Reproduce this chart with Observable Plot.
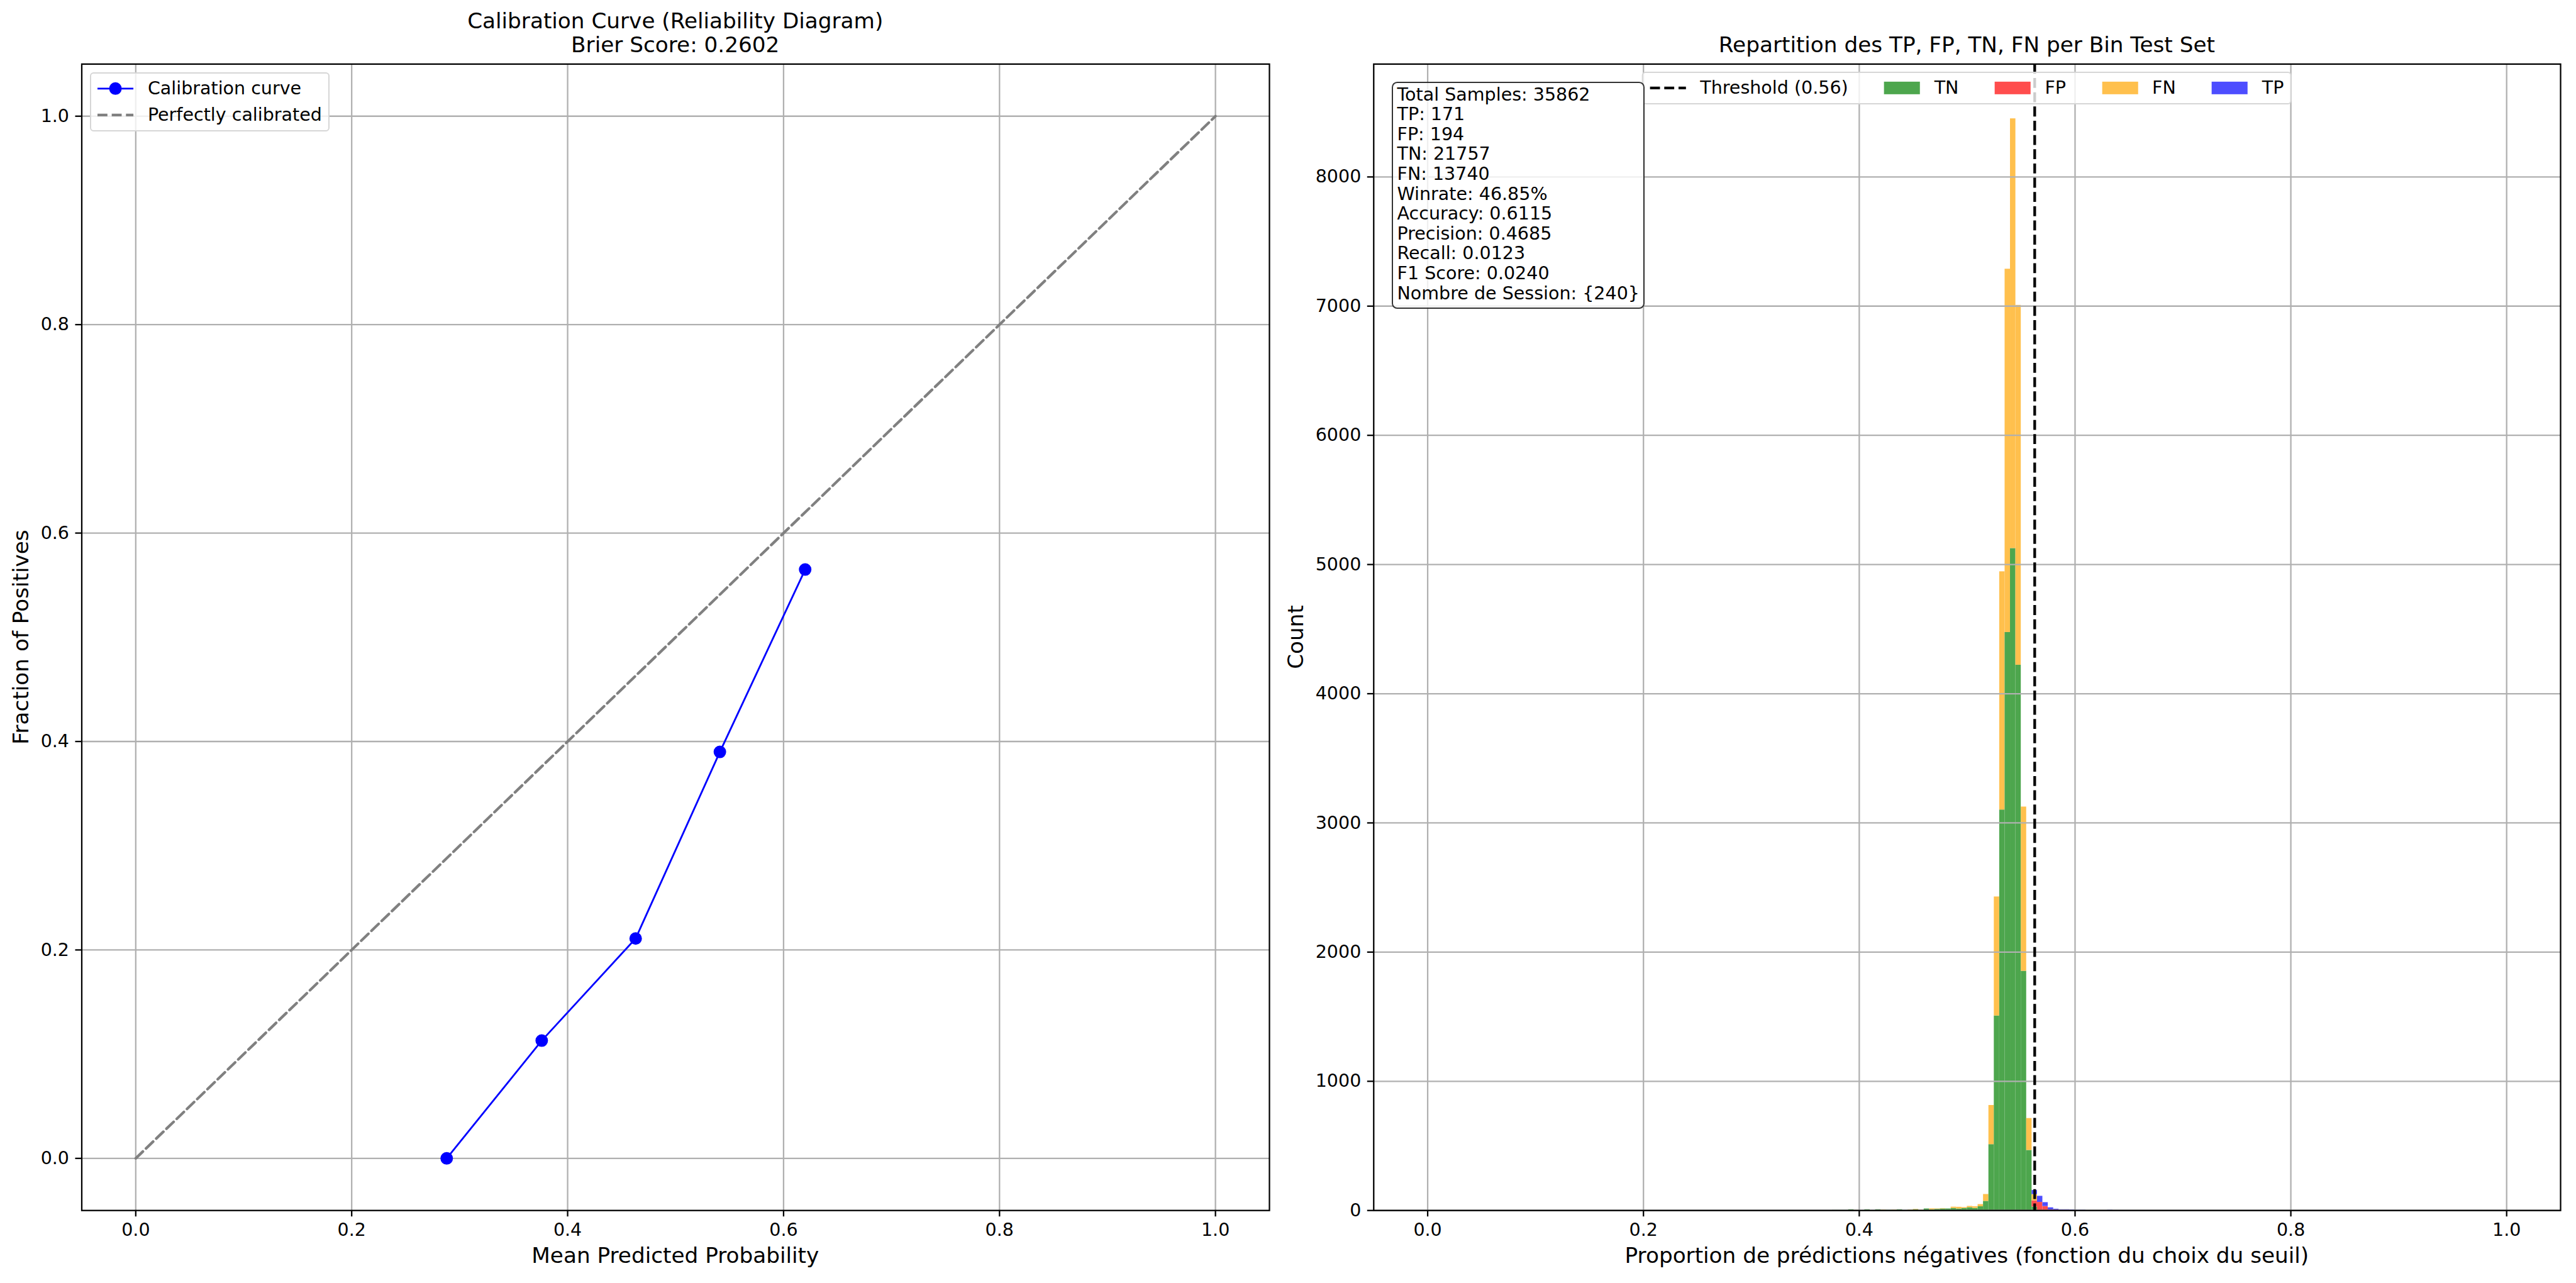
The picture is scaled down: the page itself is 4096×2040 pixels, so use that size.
<!DOCTYPE html>
<html><head><meta charset="utf-8">
<script src="https://cdn.jsdelivr.net/npm/d3@7"></script>
<script src="https://cdn.jsdelivr.net/npm/@observablehq/plot@0.6"></script>
<style>
body{margin:0;background:#fff;}
#root{position:relative;width:4096px;height:2040px;overflow:hidden;font-family:"DejaVu Sans";color:#000;background:#fff}
.abs{position:absolute;white-space:nowrap}
</style></head><body><div id="root"></div>
<script>
// ---------- data ----------
const meanPredicted = [0.288, 0.376, 0.463, 0.541, 0.620];
const fractionPositives = [0.000, 0.113, 0.211, 0.390, 0.565];
const diagonal = [0, 1];

const binWidth = 0.005;
const binStarts = [0.375,0.380,0.385,0.390,0.395,0.400,0.405,0.410,0.415,0.420,0.425,0.430,0.435,0.440,0.445,0.450,0.455,0.460,0.465,0.470,0.475,0.480,0.485,0.490,0.495,0.500,0.505,0.510,0.515,0.520,0.525,0.530,0.535,0.540,0.545,0.550,0.555,0.560,0.565,0.570,0.575,0.580,0.585,0.590,0.595,0.600,0.605,0.610,0.615,0.620,0.625,0.630];
const tnCounts = [2,2,2,7,0,0,7,0,7,3,3,3,7,0,3,7,0,13,7,10,13,13,17,13,17,23,17,30,72,511,1507,3101,4475,5125,4222,1853,466,28,0,0,0,0,0,0,0,0,0,0,0,0,0,0];
const fpCounts = [0,0,0,0,0,0,0,0,0,0,0,0,0,0,0,0,0,0,0,0,0,0,0,0,0,0,0,0,0,0,0,0,0,0,0,0,0,48,64,32,6,5,3,3,2,1,1,0,0,0,0,0];
const fnCounts = [0,0,0,0,2,0,0,0,0,3,0,3,0,0,3,3,3,0,7,3,3,0,10,13,7,10,13,17,53,303,921,1844,2812,3326,2785,1271,247,48,0,0,0,0,0,0,0,0,0,0,0,0,0,0];
const tpCounts = [0,0,0,0,0,0,0,0,0,0,0,0,0,0,0,0,0,0,0,0,0,0,0,0,0,0,0,0,0,0,0,0,0,0,0,0,0,32,47,30,16,6,4,4,4,2,2,0,0,0,0,3];
const threshold = 0.5626;

const classes = ["TN", "FP", "FN", "TP"];
const classColors = ["#4da64d", "#ff4d4d", "#ffc04d", "#4d4dff"];

const xTicks = [0, 0.2, 0.4, 0.6, 0.8, 1.0];
const yTicksLeft = [0, 0.2, 0.4, 0.6, 0.8, 1.0];
const yTicksRight = [0, 1000, 2000, 3000, 4000, 5000, 6000, 7000, 8000];

const leftTitle = ["Calibration Curve (Reliability Diagram)", "Brier Score: 0.2602"];
const rightTitle = "Repartition des TP, FP, TN, FN per Bin Test Set";
const leftXLabel = "Mean Predicted Probability";
const leftYLabel = "Fraction of Positives";
const rightXLabel = "Proportion de prédictions négatives (fonction du choix du seuil)";
const rightYLabel = "Count";
const leftLegend = ["Calibration curve", "Perfectly calibrated"];
const thresholdLabel = "Threshold (0.56)";
const statsLines = ["Total Samples: 35862","TP: 171","FP: 194","TN: 21757","FN: 13740","Winrate: 46.85%","Accuracy: 0.6115","Precision: 0.4685","Recall: 0.0123","F1 Score: 0.0240","Nombre de Session: {240}"];

// ---------- sizes (already scaled) ----------
const FS = 28.54, TFS = 34.25, AXW = 2.28, TICK = 10, PAD = 10;
const GRID = "#b0b0b0";
const DASH = "15.8 6.85";
const root = document.getElementById("root");

const series = {TN: tnCounts, FP: fpCounts, FN: fnCounts, TP: tpCounts};
const histRows = [];
binStarts.forEach((b, i) => classes.forEach(c => {
  const v = series[c][i];
  if (v > 0) histRows.push({x1: b, x2: b + binWidth, count: v, cls: c});
}));
const totals = binStarts.map((b, i) => classes.reduce((s, c) => s + series[c][i], 0));
const yMaxRight = d3.max(totals) * 1.05;

const styleBase = {fontFamily: "DejaVu Sans", fontSize: FS + "px", background: "transparent", overflow: "visible", color: "black"};

// ---------- left chart ----------
const calib = meanPredicted.map((x, i) => ({x, y: fractionPositives[i]}));
const left = Plot.plot({
  width: 2048, height: 2040,
  marginLeft: 129.5, marginRight: 30, marginTop: 101.4, marginBottom: 115.8,
  style: styleBase,
  x: {domain: [-0.05, 1.05]},
  y: {domain: [-0.05, 1.05]},
  marks: [
    Plot.gridX(xTicks, {stroke: GRID, strokeOpacity: 1, strokeWidth: AXW}),
    Plot.gridY(yTicksLeft, {stroke: GRID, strokeOpacity: 1, strokeWidth: AXW}),
    Plot.line(diagonal, {x: d => d, y: d => d, stroke: "gray", strokeWidth: 4.28, strokeDasharray: DASH}),
    Plot.line(calib, {x: "x", y: "y", stroke: "blue", strokeWidth: 2.85}),
    Plot.dot(calib, {x: "x", y: "y", r: 8.56, fill: "blue", stroke: "blue", strokeWidth: 2.85}),
    Plot.frame({stroke: "black", strokeWidth: AXW}),
    Plot.axisX(xTicks, {tickFormat: d3.format(".1f"), tickSize: TICK, tickPadding: PAD, strokeWidth: AXW, fontSize: FS, label: null}),
    Plot.axisY(yTicksLeft, {tickFormat: d3.format(".1f"), tickSize: TICK, tickPadding: PAD, strokeWidth: AXW, fontSize: FS, label: null})
  ]
});
left.style.position = "absolute"; left.style.left = "0px"; left.style.top = "0px";
root.appendChild(left);

// ---------- right chart ----------
const right = Plot.plot({
  width: 2048, height: 2040,
  marginLeft: 135.8, marginRight: 25, marginTop: 101.4, marginBottom: 115.8,
  style: styleBase,
  x: {domain: [-0.05, 1.05]},
  y: {domain: [0, yMaxRight]},
  color: {domain: classes, range: classColors},
  marks: [
    Plot.rectY(histRows, {x1: "x1", x2: "x2", y: "count", fill: "cls"}),
    Plot.gridX(xTicks, {stroke: GRID, strokeOpacity: 1, strokeWidth: AXW}),
    Plot.gridY(yTicksRight, {stroke: GRID, strokeOpacity: 1, strokeWidth: AXW}),
    Plot.ruleX([threshold], {stroke: "black", strokeWidth: 4.28, strokeDasharray: DASH}),
    Plot.frame({stroke: "black", strokeWidth: AXW}),
    Plot.axisX(xTicks, {tickFormat: d3.format(".1f"), tickSize: TICK, tickPadding: PAD, strokeWidth: AXW, fontSize: FS, label: null}),
    Plot.axisY(yTicksRight, {tickFormat: d3.format("d"), tickSize: TICK, tickPadding: PAD, strokeWidth: AXW, fontSize: FS, label: null})
  ]
});
right.style.position = "absolute"; right.style.left = "2048px"; right.style.top = "0px";
root.appendChild(right);

// ---------- text helpers ----------
function hText(txt, cx, baseline, size) {
  const d = document.createElement("div");
  d.className = "abs";
  d.textContent = txt;
  d.style.fontSize = size + "px";
  d.style.lineHeight = (1.164 * size) + "px";
  d.style.left = cx + "px";
  d.style.top = (baseline - 0.928 * size) + "px";
  d.style.transform = "translateX(-50%)";
  root.appendChild(d);
}
function vText(txt, baselineX, cy, size) {
  const d = document.createElement("div");
  d.className = "abs";
  d.textContent = txt;
  d.style.fontSize = size + "px";
  d.style.lineHeight = (1.164 * size) + "px";
  d.style.left = (baselineX - 0.346 * size) + "px";
  d.style.top = cy + "px";
  d.style.transform = "translate(-50%,-50%) rotate(-90deg)";
  root.appendChild(d);
}
const leftCX = (129.5 + 2018) / 2, rightCX = (2183.8 + 4071) / 2, midY = (101.4 + 1924.2) / 2;
hText(leftTitle[0], leftCX, 45.7, TFS);
hText(leftTitle[1], leftCX, 84.05, TFS);
hText(rightTitle, rightCX, 84.05, TFS);
hText(leftXLabel, leftCX, 2008.5, TFS);
hText(rightXLabel, rightCX, 2008.5, TFS);
vText(leftYLabel, 45.5, midY, TFS);
vText(rightYLabel, 2072.6, midY, TFS);

// ---------- legends ----------
const SVGNS = "http://www.w3.org/2000/svg";
function handleSvg(kind, color) {
  const s = document.createElementNS(SVGNS, "svg");
  s.setAttribute("width", 57.1); s.setAttribute("height", 27.7);
  s.style.display = "block"; s.style.overflow = "visible"; s.style.flex = "none";
  const add = (tag, attrs) => { const e = document.createElementNS(SVGNS, tag); for (const k in attrs) e.setAttribute(k, attrs[k]); s.appendChild(e); };
  if (kind === "markerline") {
    add("line", {x1: 0, x2: 57.1, y1: 13.85, y2: 13.85, stroke: color, "stroke-width": 2.85});
    add("circle", {cx: 28.55, cy: 13.85, r: 8.56, fill: color, stroke: color, "stroke-width": 2.85});
  } else if (kind === "dash") {
    add("line", {x1: 0, x2: 57.1, y1: 13.85, y2: 13.85, stroke: color, "stroke-width": 4.28, "stroke-dasharray": DASH});
  } else {
    add("rect", {x: 0, y: 13.85 - 9.99, width: 57.1, height: 19.98, fill: color});
  }
  return s;
}
function legendItem(kind, color, label) {
  const it = document.createElement("div");
  it.style.display = "flex"; it.style.alignItems = "center"; it.style.height = "27.7px";
  it.appendChild(handleSvg(kind, color));
  const t = document.createElement("span");
  t.textContent = label; t.style.marginLeft = "22.8px"; t.style.fontSize = FS + "px"; t.style.lineHeight = "27.7px"; t.style.whiteSpace = "nowrap";
  it.appendChild(t);
  return it;
}
function legendBox() {
  const b = document.createElement("div");
  b.className = "abs";
  b.style.boxSizing = "border-box";
  b.style.padding = "10.3px";
  b.style.border = "2.28px solid #d6d6d6";
  b.style.borderRadius = "5.7px";
  b.style.background = "rgba(255,255,255,0.8)";
  return b;
}
// left legend (upper left)
const lg = legendBox();
lg.style.left = "142.7px"; lg.style.top = "114.6px";
const r1 = legendItem("markerline", "blue", leftLegend[0]);
const r2 = legendItem("dash", "gray", leftLegend[1]);
r2.style.marginTop = "14.27px";
lg.appendChild(r1); lg.appendChild(r2);
root.appendChild(lg);

// right legend (upper center, 5 columns)
const rg = legendBox();
rg.style.left = rightCX + "px"; rg.style.top = "114.0px"; rg.style.transform = "translateX(-50%)";
rg.style.display = "flex";
const items = [legendItem("dash", "black", thresholdLabel)];
classes.forEach((c, i) => items.push(legendItem("patch", classColors[i], c)));
items.forEach((it, i) => { if (i > 0) it.style.marginLeft = "57.1px"; rg.appendChild(it); });
root.appendChild(rg);

// stats text box (upper left of right axes)
const tb = document.createElement("div");
tb.className = "abs";
tb.style.boxSizing = "border-box";
tb.style.left = "2212.6px"; tb.style.top = "129.5px";
tb.style.width = "402.7px"; tb.style.height = "361px";
tb.style.border = "2.85px solid rgba(0,0,0,0.8)";
tb.style.borderRadius = "8.6px";
tb.style.background = "rgba(255,255,255,0.8)";
root.appendChild(tb);
const tt = document.createElement("div");
tt.className = "abs";
tt.style.left = "2221.5px"; tt.style.top = "134.6px";
tt.style.fontSize = FS + "px"; tt.style.lineHeight = "31.6px";
tt.style.whiteSpace = "pre";
tt.textContent = statsLines.join("\n");
root.appendChild(tt);
</script></body></html>
